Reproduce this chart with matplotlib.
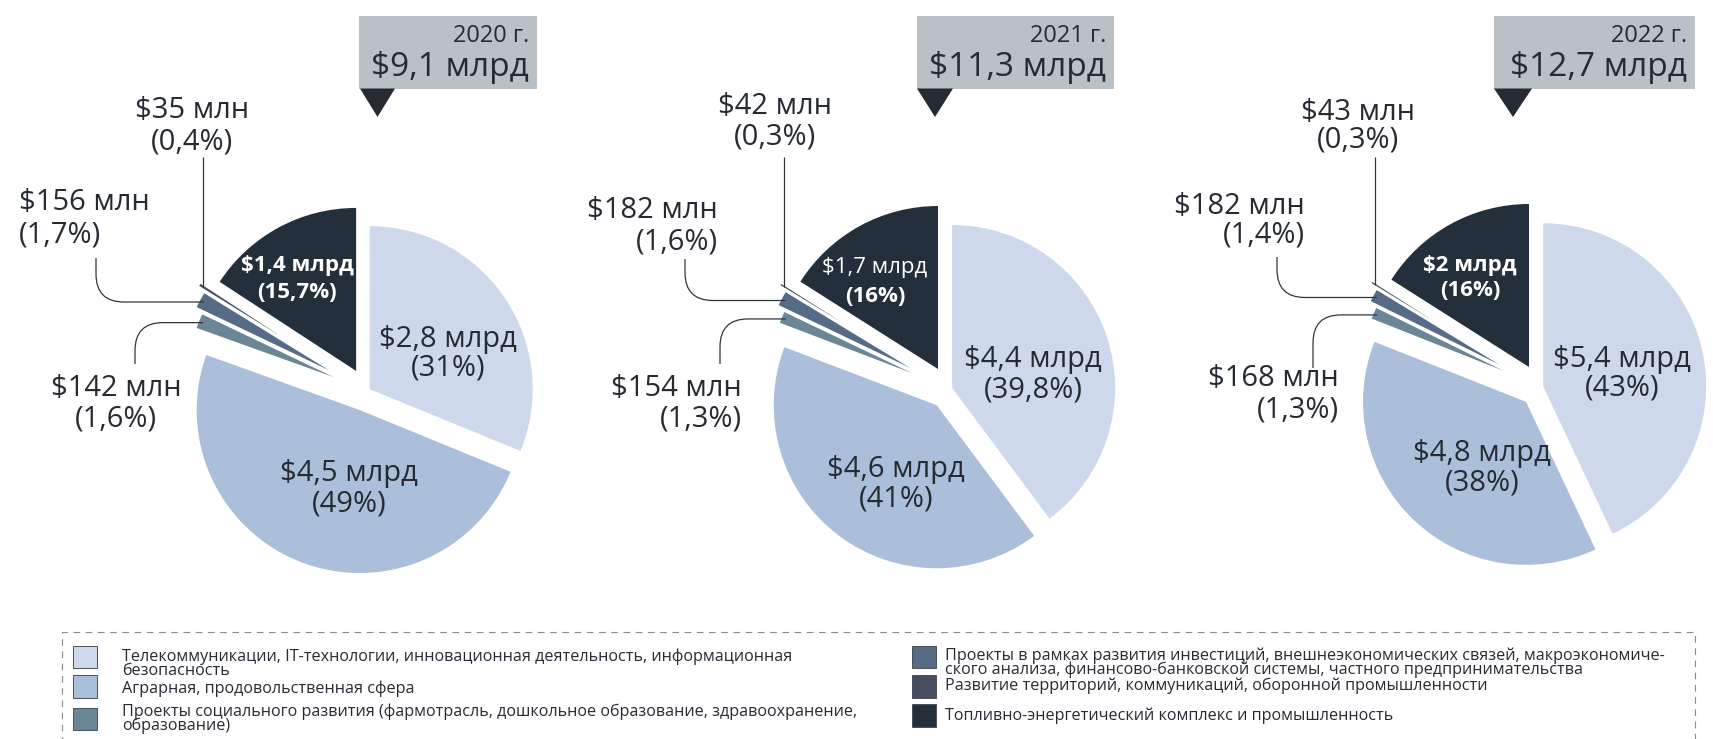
import matplotlib
matplotlib.use("Agg")
import matplotlib.pyplot as plt
from matplotlib.patches import Rectangle, Polygon, PathPatch
from matplotlib.path import Path
import numpy as np

plt.rcParams['font.family'] = ['Open Sans', 'DejaVu Sans']

# ---------------- data ----------------
years = ['2020 г.', '2021 г.', '2022 г.']
totals = ['$9,1 млрд', '$11,3 млрд', '$12,7 млрд']

categories = [
    'Телекоммуникации, IT-технологии, инновационная деятельность, информационная\nбезопасность',
    'Аграрная, продовольственная сфера',
    'Проекты социального развития (фармотрасль, дошкольное образование, здравоохранение,\nобразование)',
    'Проекты в рамках развития инвестиций, внешнеэкономических связей, макроэкономиче-\nского анализа, финансово-банковской системы, частного предпринимательства',
    'Развитие территорий, коммуникаций, оборонной промышленности',
    'Топливно-энергетический комплекс и промышленность',
]

share_2020 = [31, 49, 1.6, 1.7, 0.4, 15.7]
share_2021 = [39.8, 41, 1.3, 1.6, 0.3, 16]
share_2022 = [43, 38, 1.3, 1.4, 0.3, 16]

amount_2020 = ['$2,8 млрд', '$4,5 млрд', '$142 млн', '$156 млн', '$35 млн', '$1,4 млрд']
amount_2021 = ['$4,4 млрд', '$4,6 млрд', '$154 млн', '$182 млн', '$42 млн', '$1,7 млрд']
amount_2022 = ['$5,4 млрд', '$4,8 млрд', '$168 млн', '$182 млн', '$43 млн', '$2 млрд']

colors = ['#cdd9ea', '#abbfdb', '#6b8795', '#566c86', '#454e60', '#232f3b']

shares = [share_2020, share_2021, share_2022]
amounts = [amount_2020, amount_2021, amount_2022]

# ---------------- layout (pixels, image coordinates: y down) ----------------
W, H = 1713, 739
R = 163
centers = [(367, 391), (949, 389), (1540, 387)]
explode_frac = [0.02, 0.125, 0.12, 0.17, 0.22, 0.14]

TXT = '#262b33'

inner_pos = [
    {0: (448, 339, 368), 1: (349, 473, 504), 5: (297, 266, 293)},
    {0: (1033, 359, 390), 1: (896, 470, 499), 5: (875, 268, 297)},
    {0: (1622, 359, 388), 1: (1482, 453, 483), 5: (1470, 265, 291)},
]
fuel_bold = [(True, True), (False, True), (True, True)]

outer_pos = [
    {4: (192, 111, 142, 'center', None),
     3: (19, 203, 235, 'left', (96, 258)),
     2: (116, 388, 419, 'center', (135, 364))},
    {4: (775, 106, 137, 'center', None),
     3: (718, 211, 242, 'right', (685, 259)),
     2: (742, 388, 419, 'right', (720, 364))},
    {4: (1358, 113, 140, 'center', None),
     3: (1305, 206, 235, 'right', (1277, 257)),
     2: (1339, 379, 410, 'right', (1313, 368))},
]

boxes = [(359, 537, 360, 395), (917, 1114, 917, 953), (1494, 1695, 1494, 1532)]


def Y(y):
    return H - y


def pct(v):
    return '(' + ('%g' % v).replace('.', ',') + '%)'


fig = plt.figure(figsize=(W / 100, H / 100), dpi=100)
ax = fig.add_axes([0, 0, 1, 1])

for k in range(3):
    cx, cy = centers[k]
    wedges, _ = ax.pie(shares[k], colors=colors, startangle=90, counterclock=False,
                       explode=[e * R for e in explode_frac], radius=R,
                       center=(cx, Y(cy)), wedgeprops=dict(linewidth=0), frame=False)
    for i in (2, 3, 4):
        wedges[i].set_edgecolor('white')
        wedges[i].set_linewidth(1.2)

    # inner labels
    for i, (x, y1, y2) in inner_pos[k].items():
        if i == 5:
            b1, b2 = fuel_bold[k]
            ax.text(x, Y(y1), amounts[k][i], ha='center', va='center', fontsize=16,
                    color='white', fontweight='bold' if b1 else 'normal')
            ax.text(x, Y(y2), pct(shares[k][i]), ha='center', va='center', fontsize=16,
                    color='white', fontweight='bold' if b2 else 'normal')
        else:
            ax.text(x, Y(y1), amounts[k][i], ha='center', va='center', fontsize=21, color=TXT)
            ax.text(x, Y(y2), pct(shares[k][i]), ha='center', va='center', fontsize=21, color=TXT)

    # outer labels + leaders
    for i, (x, y1, y2, ha, start) in outer_pos[k].items():
        ax.text(x, Y(y1), amounts[k][i], ha=ha, va='center', fontsize=21, color=TXT)
        ax.text(x, Y(y2), pct(shares[k][i]), ha=ha, va='center', fontsize=21, color=TXT)
        w = wedges[i]
        th = np.deg2rad((w.theta1 + w.theta2) / 2)
        px = w.center[0] + w.r * 0.97 * np.cos(th)
        py = H - (w.center[1] + w.r * 0.97 * np.sin(th))
        if start is None:
            verts = [(px, 157), (px, py)]
            codes = [Path.MOVETO, Path.LINETO]
        else:
            sx, sy = start
            s = np.sign(py - sy)
            rc = min(28, abs(py - sy), abs(px - sx))
            verts = [(sx, sy), (sx, py - s * rc), (sx, py), (sx + rc, py), (px, py)]
            codes = [Path.MOVETO, Path.LINETO, Path.CURVE3, Path.CURVE3, Path.LINETO]
        verts = [(a, Y(b)) for a, b in verts]
        ax.add_patch(PathPatch(Path(verts, codes), facecolor='none', edgecolor='#30353d',
                               linewidth=0.9, zorder=5))

    # header box
    bx0, bx1, tx0, tx1 = boxes[k]
    ax.add_patch(Rectangle((bx0, Y(88.5)), bx1 - bx0, 88.5 - 15.7, facecolor='#b9c0c6',
                           edgecolor='none'))
    ax.add_patch(Polygon([(tx0, Y(88.5)), (tx1, Y(88.5)), ((tx0 + tx1) / 2, Y(117))],
                         closed=True, facecolor=TXT, edgecolor='none'))
    ax.text(bx1 - 8, Y(36), years[k], ha='right', va='center', fontsize=17, color=TXT)
    ax.text(bx1 - 8, Y(68), totals[k], ha='right', va='center', fontsize=24, color=TXT)

# legend (manual, dashed frame)
ax.add_patch(Rectangle((61.7, Y(760)), 1695 - 61.7, 760 - 631.7, facecolor='none',
                       edgecolor='#8a8a8a', linewidth=0.8, linestyle=(0, (6, 5))))
swatch_pos = [(72.7, 645.7), (72.7, 675), (72.7, 707.7),
              (911.7, 645.7), (911.7, 675), (911.7, 704.3)]
last_baseline = [675, 692.9, 729.5, 674, 690, 720]
for i, cat in enumerate(categories):
    sx, sy = swatch_pos[i]
    ax.add_patch(Rectangle((sx, Y(sy + 22.7)), 24, 22.7, facecolor=colors[i],
                           edgecolor='#4a4f58', linewidth=0.7))
    tx = 121.7 if i < 3 else 945
    ax.text(tx, Y(last_baseline[i]), cat, ha='left', va='baseline', fontsize=11.6,
            color=TXT, linespacing=0.8)

ax.set_xlim(0, W)
ax.set_ylim(0, H)
ax.set_aspect('auto')
ax.axis('off')

fig.savefig('out.png', dpi=100)
